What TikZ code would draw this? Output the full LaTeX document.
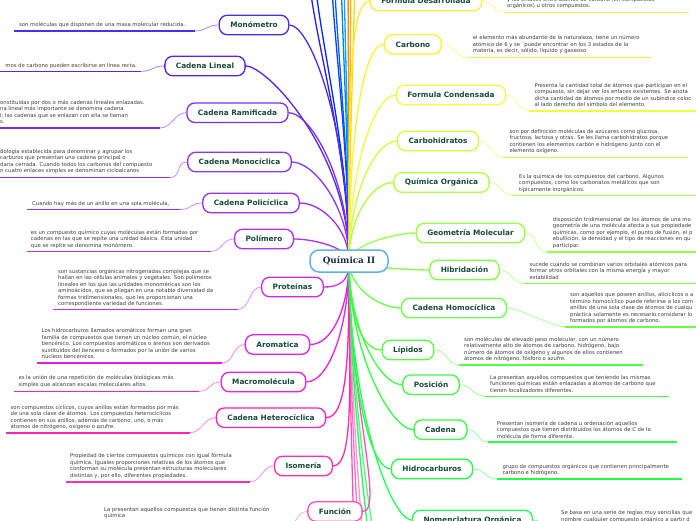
\documentclass[tikz,border=0pt]{standalone}
\usepackage{fontspec}
\setmainfont{DejaVu Sans}
\newfontfamily\qserif{DejaVu Serif}
\usetikzlibrary{backgrounds}
\definecolor{labelc}{HTML}{174A3C}
\definecolor{descc}{HTML}{3C3C3C}
\definecolor{qblue}{HTML}{62B0E8}
\definecolor{qtext}{HTML}{1A2B4C}
\definecolor{cMono}{HTML}{4A2CF5}
\definecolor{cLin}{HTML}{5A22EE}
\definecolor{cRam}{HTML}{7A30EE}
\definecolor{cMcy}{HTML}{8A36F0}
\definecolor{cPcy}{HTML}{9C30F0}
\definecolor{cPol}{HTML}{B030F0}
\definecolor{cProt}{HTML}{D028EE}
\definecolor{cArom}{HTML}{E020E0}
\definecolor{cMacro}{HTML}{F020D0}
\definecolor{cHet}{HTML}{FF20C0}
\definecolor{cIso}{HTML}{FF30B0}
\definecolor{cFunc}{HTML}{FF50B8}
\definecolor{cFdes}{HTML}{FFEA3A}
\definecolor{cCarb}{HTML}{FFF030}
\definecolor{cFcon}{HTML}{EEFF40}
\definecolor{cCarbh}{HTML}{CCFF40}
\definecolor{cQorg}{HTML}{B0FF40}
\definecolor{cGeo}{HTML}{99FF44}
\definecolor{cHib}{HTML}{80FF40}
\definecolor{cHomo}{HTML}{6AFF44}
\definecolor{cLip}{HTML}{55FF44}
\definecolor{cPos}{HTML}{40FF40}
\definecolor{cCad}{HTML}{33FF44}
\definecolor{cHidro}{HTML}{22FF44}
\definecolor{cNom}{HTML}{22FF55}
\tikzset{
  branch/.style={draw, rounded corners=8pt, fill=white, line width=1.3pt,
    inner xsep=11pt, inner ysep=0pt, minimum height=19.5pt, text=labelc,
    font=\fontsize{7.35}{8}\selectfont\bfseries},
  desc/.style={inner sep=0pt, align=left, text=descc,
    font=\fontsize{5.3}{6.5}\selectfont, anchor=north west},
  trunk/.style={line width=1.3pt},
  uline/.style={line width=1.6pt},
  leaf/.style={line width=0.8pt},
}
\newcommand\dstr{\rule{0pt}{5pt}}
\newcommand\mainL[3]{\draw[trunk,draw=#2] (Q.center) .. controls +(0,#3) and +(22,0) .. (#1.east);}
\newcommand\mainR[3]{\draw[trunk,draw=#2] (Q.center) .. controls +(0,#3) and +(-22,0) .. (#1.west);}
\newcommand\leafL[2]{\draw[uline,draw=#2] (#1a) -- (#1b); \draw[leaf,draw=#2!55!white] (#1.west) .. controls +(-12,0) and +(12,0) .. (#1b);}
\newcommand\leafR[2]{\draw[uline,draw=#2] (#1a) -- (#1b); \draw[leaf,draw=#2!55!white] (#1.east) .. controls +(12,0) and +(-12,0) .. (#1a);}
\newcommand\offline[3]{\draw[trunk,draw=#2] (Q.center) .. controls +(0,#3) and +(0,60) .. (#1);}
\begin{document}
\begin{tikzpicture}[x=1pt,y=-1pt]
\useasboundingbox (0,0) rectangle (696,520);
% central
\node[draw=qblue, line width=1.5pt, rounded corners=9pt, fill=white, text=qtext,
  font=\qserif\fontsize{8.8}{10}\selectfont\bfseries, minimum width=78pt,
  minimum height=22pt, inner sep=0pt] (Q) at (349,261) {Química II};
% left branches
\node[branch,draw=cMono] (mono) at (254,25) {Monómetro};
\node[branch,draw=cLin] (lin) at (205,66) {Cadena Lineal};
\node[branch,draw=cRam] (ram) at (237.5,112.7) {Cadena Ramificada};
\node[branch,draw=cMcy] (mcy) at (239.5,162) {Cadena Monocíclica};
\node[branch,draw=cPcy] (pcy) at (251,203) {Cadena Policíclica};
\node[branch,draw=cPol] (pol) at (264,239) {Polímero};
\node[branch,draw=cProt] (prot) at (292.5,287) {Proteínas};
\node[branch,draw=cArom] (arom) at (277.5,344.5) {Aromatica};
\node[branch,draw=cMacro] (macro) at (263.5,382) {Macromolécula};
\node[branch,draw=cHet] (het) at (271,417.7) {Cadena Heterocíclica};
\node[branch,draw=cIso] (iso) at (303.5,466) {Isomería};
\node[branch,draw=cFunc] (func) at (335,511.5) {Función};
% right branches
\node[branch,draw=cFdes] (fdes) at (426,1) {Formula Desarrollada};
\node[branch,draw=cCarb] (carb) at (413,44.3) {Carbono};
\node[branch,draw=cFcon] (fcon) at (451,95) {Formula Condensada};
\node[branch,draw=cCarbh] (carbh) at (438,141) {Carbohidratos};
\node[branch,draw=cQorg] (qorg) at (441.5,182.5) {Química Orgánica};
\node[branch,draw=cGeo] (geo) at (470.5,233) {Geometría Molecular};
\node[branch,draw=cHib] (hib) at (464.5,270) {Hibridación};
\node[branch,draw=cHomo] (homo) at (454,308) {Cadena Homocíclica};
\node[branch,draw=cLip] (lip) at (408,350) {Lípidos};
\node[branch,draw=cPos] (pos) at (431,384.7) {Posición};
\node[branch,draw=cCad] (cad) at (440.5,429.7) {Cadena};
\node[branch,draw=cHidro] (hidro) at (432,469) {Hidrocarburos};
\node[branch,draw=cNom] (nom) at (472.5,520) {Nomenclatura Orgánica};
% descriptions, left
\node[desc] (monoT) at (19,20.8) {\dstr son moléculas que disponen de una masa molecular reducida.};
\coordinate (monoa) at (14,31); \coordinate (monob) at (195,31);
\node[desc,anchor=north east] (linT) at (137,61.8) {\dstr mos de carbono pueden escribirse en línea recta.};
\coordinate (lina) at (-2,71.3); \coordinate (linb) at (141,71.3);
\node[desc] (ramT) at (0,99.1) {\dstr onstituidas por dos o más cadenas lineales enlazadas.\\na lineal más importante se denomina cadena\\l; las cadenas que se enlazan con ella se llaman\\s.};
\coordinate (rama) at (-2,128); \coordinate (ramb) at (160,128);
\node[desc] (mcyT) at (0,148.1) {\dstr dología establecida para denominar y agrupar los\\carburos que presentan una cadena principal o\\daria cerrada. Cuando todos los carbonos del compuesto\\n cuatro enlaces simples se denominan cicloalcanos};
\coordinate (mcya) at (-2,177.5); \coordinate (mcyb) at (170,177.5);
\node[desc] (pcyT) at (32,200.1) {\dstr Cuando hay más de un anillo en una sola molécula,};
\coordinate (pcya) at (27,209.5); \coordinate (pcyb) at (180,209.5);
\node[desc] (polT) at (30.7,228.8) {\dstr es un compuesto químico cuyas moléculas están formadas por\\cadenas en las que se repite una unidad básica. Esta unidad\\que se repite se denomina monómero.};
\coordinate (pola) at (26.5,251.5); \coordinate (polb) at (210.5,251.5);
\node[desc] (protT) at (58,267.8) {\dstr son sustancias orgánicas nitrogenadas complejas que se\\hallan en las células animales y vegetales. Son polímeros\\lineales en los que las unidades monoméricas son los\\aminoácidos, que se pliegan en una notable diversidad de\\formas tridimensionales, que les proporcionan una\\correspondiente variedad de funciones.};
\coordinate (prota) at (53,309.5); \coordinate (protb) at (238,309.5);
\node[desc] (aromT) at (41.5,327.5) {\dstr Los hidrocarburos llamados aromáticos forman una gran\\familia de compuestos que tienen un núcleo común, el núcleo\\bencénico. Los compuestos aromáticos o árenos son derivados\\sustituidos del benceno o formados por la unión de varios\\núcleos bencénicos.};
\coordinate (aroma) at (37,363); \coordinate (aromb) at (222,363);
\node[desc] (macroT) at (18.3,374.5) {\dstr es la unión de una repetición de moléculas biológicas más\\simples que alcanzan escalas moleculares altos.};
\coordinate (macroa) at (14,391.3); \coordinate (macrob) at (199,391.3);
\node[desc] (hetT) at (10.5,403.8) {\dstr son compuestos cíclicos, cuyos anillos están formados por más\\de una sola clase de átomos. Los compuestos heterocíclicos\\contienen en sus anillos, además de carbono, uno, o más\\átomos de nitrógeno, oxígeno o azufre.};
\coordinate (heta) at (6,432.7); \coordinate (hetb) at (190,432.7);
\node[desc] (isoT) at (70,452.5) {\dstr Propiedad de ciertos compuestos químicos con igual fórmula\\química. Iguales proporciones relativas de los átomos que\\conforman su molécula presentan estructuras moleculares\\distintas y, por ello, diferentes propiedades.};
\coordinate (isoa) at (66,481.7); \coordinate (isob) at (250,481.7);
\node[desc] (funcT) at (104,505.8) {\dstr La presentan aquellos compuestos que tienen distinta función\\química};
\coordinate (funca) at (99,528); \coordinate (funcb) at (285,528);
% descriptions, right
\node[desc] (fdesT) at (507,-4.2) {\dstr y los enlaces entre átomos de carbono (en compuestos\\orgánicos) u otros compuestos.};
\coordinate (fdesa) at (505,12.3); \coordinate (fdesb) at (689,12.3);
\node[desc] (carbT) at (472.7,34.5) {\dstr el elemento más abundante de la naturaleza, tiene un número\\atómico de 6 y se ´puede encontrar en los 3 estados de la\\materia, es decir, sólido, líquido y gaseoso};
\coordinate (carba) at (467.7,57.3); \coordinate (carbb) at (652,57.3);
\node[desc] (fconT) at (534.3,81.8) {\dstr Presenta la cantidad total de átomos que participan en el\\compuesto, sin dejar ver los enlaces existentes. Se anota\\dicha cantidad de átomos por medio de un subíndice coloc\\al lado derecho del símbolo del elemento.};
\coordinate (fcona) at (529,110.7); \coordinate (fconb) at (700,110.7);
\node[desc] (carbhT) at (509.3,128.1) {\dstr son por definición moléculas de azúcares como glucosa,\\fructosa, lactosa y otras. Se les llama carbohidratos porque\\contienen los elementos carbón e hidrógeno junto con el\\elemento oxígeno.};
\coordinate (carbha) at (503,157.3); \coordinate (carbhb) at (688,157.3);
\node[desc] (qorgT) at (519,173.1) {\dstr Es la química de los compuestos del carbono. Algunos\\compuestos, como los carbonatos metálicos que son\\típicamente inorgánicos.};
\coordinate (qorga) at (513,195.3); \coordinate (qorgb) at (700,195.3);
\node[desc] (geoT) at (552.7,216.1) {\dstr disposición tridimensional de los átomos de una mo\\geometría de una molécula afecta a sus propiedade\\químicas, como por ejemplo, el punto de fusión, el p\\ebullición, la densidad y el tipo de reacciones en qu\\participar.};
\coordinate (geoa) at (546.7,252); \coordinate (geob) at (700,252);
\node[desc] (hibT) at (529.3,261.1) {\dstr sucede cuando se combinan varios orbitales atómicos para\\formar otros orbitales con la misma energía y mayor\\estabilidad};
\coordinate (hiba) at (524,283.3); \coordinate (hibb) at (700,283.3);
\node[desc] (homoT) at (570,291.5) {\dstr son aquellos que poseen anillos, alicíclicos o a\\término homocíclico puede referirse a los com\\anillos de una sola clase de átomos de cualqu\\práctica solamente es necesario considerar lo\\formados por átomos de carbono.};
\coordinate (homoa) at (565,326.7); \coordinate (homob) at (700,326.7);
\node[desc] (lipT) at (464,335.8) {\dstr son moléculas de elevado peso molecular, con un número\\relativamente alto de átomos de carbono, hidrógeno, bajo\\número de átomos de oxígeno y algunos de ellos contienen\\átomos de nitrógeno, fósforo o azufre.};
\coordinate (lipa) at (459,364.7); \coordinate (lipb) at (643.3,364.7);
\node[desc] (posT) at (490,373.8) {\dstr La presentan aquellos compuestos que teniendo las mismas\\funciones químicas están enlazadas a átomos de carbono que\\tienen localizadores diferentes.};
\coordinate (posa) at (485,396.3); \coordinate (posb) at (669.3,396.3);
\node[desc] (cadT) at (496.7,419.8) {\dstr Presentan isomería de cadena u ordenación aquellos\\compuestos que tienen distribuidos los átomos de C de la\\molécula de forma diferente.};
\coordinate (cada) at (488,441.7); \coordinate (cadb) at (677,441.7);
\node[desc] (hidroT) at (502.3,462.8) {\dstr grupo de compuestos orgánicos que contienen principalmente\\carbono e hidrógeno.};
\coordinate (hidroa) at (497,479); \coordinate (hidrob) at (681.7,479);
\node[desc] (nomT) at (561,509.5) {\dstr Se basa en una serie de reglas muy sencillas que\\nombre cualquier compuesto orgánico a partir d};
\coordinate (noma) at (556,535); \coordinate (nomb) at (700,535);
% off-canvas ends
\coordinate (up1) at (308,-40); \coordinate (up2) at (314,-40);
\coordinate (up3) at (331,-40); \coordinate (up4) at (334,-40);
\coordinate (up5) at (341,-40); \coordinate (up6) at (344,-40);
\coordinate (up7) at (348,-40); \coordinate (up8) at (351,-40);
\coordinate (up9) at (355,-40);
\coordinate (dn1) at (356,560); \coordinate (dn2) at (362,560);
\coordinate (dn3) at (368,560); \coordinate (dn4) at (376,560);
\coordinate (dn5) at (383,560);
\begin{scope}[on background layer]
\offline{up1}{cMono!60!blue}{-120}
\offline{up2}{blue!85!cyan}{-120}
\offline{up3}{blue!75!cyan}{-120}
\offline{up4}{blue!65!cyan}{-120}
\offline{up5}{blue!50!cyan}{-120}
\offline{up6}{blue!35!cyan}{-120}
\offline{up7}{orange!90!yellow}{-120}
\offline{up8}{orange!60!yellow}{-120}
\offline{up9}{orange!30!yellow}{-120}
\offline{dn1}{cFunc}{130}
\offline{dn2}{cFunc!80!white}{130}
\offline{dn3}{cFunc!60!white}{130}
\offline{dn4}{cNom}{130}
\offline{dn5}{cNom!80!white}{130}
\mainL{mono}{cMono}{-130}
\mainL{lin}{cLin}{-107}
\mainL{ram}{cRam}{-81}
\mainL{mcy}{cMcy}{-54}
\mainL{pcy}{cPcy}{-32}
\mainL{pol}{cPol}{-12}
\mainL{prot}{cProt}{14}
\mainL{arom}{cArom}{46}
\mainL{macro}{cMacro}{67}
\mainL{het}{cHet}{86}
\mainL{iso}{cIso}{113}
\mainL{func}{cFunc}{138}
\mainR{fdes}{cFdes}{-143}
\mainR{carb}{cCarb}{-119}
\mainR{fcon}{cFcon}{-91}
\mainR{carbh}{cCarbh}{-66}
\mainR{qorg}{cQorg}{-43}
\mainR{geo}{cGeo}{-15}
\mainR{hib}{cHib}{5}
\mainR{homo}{cHomo}{26}
\mainR{lip}{cLip}{49}
\mainR{pos}{cPos}{68}
\mainR{cad}{cCad}{93}
\mainR{hidro}{cHidro}{114}
\mainR{nom}{cNom}{142}
\leafL{mono}{cMono}
\leafL{lin}{cLin}
\leafL{ram}{cRam}
\leafL{mcy}{cMcy}
\leafL{pcy}{cPcy}
\leafL{pol}{cPol}
\leafL{prot}{cProt}
\leafL{arom}{cArom}
\leafL{macro}{cMacro}
\leafL{het}{cHet}
\leafL{iso}{cIso}
\leafL{func}{cFunc}
\leafR{fdes}{cFdes}
\leafR{carb}{cCarb}
\leafR{fcon}{cFcon}
\leafR{carbh}{cCarbh}
\leafR{qorg}{cQorg}
\leafR{geo}{cGeo}
\leafR{hib}{cHib}
\leafR{homo}{cHomo}
\leafR{lip}{cLip}
\leafR{pos}{cPos}
\leafR{cad}{cCad}
\leafR{hidro}{cHidro}
\leafR{nom}{cNom}
\end{scope}
\end{tikzpicture}
\end{document}
